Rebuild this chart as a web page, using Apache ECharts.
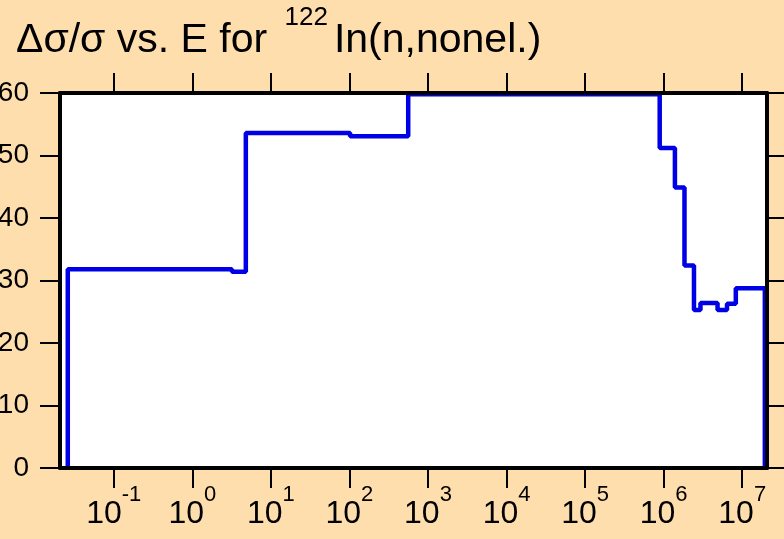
<!DOCTYPE html>
<html><head><meta charset="utf-8">
<script src="https://cdn.jsdelivr.net/npm/echarts@6/dist/echarts.min.js"></script>
<style>html,body{margin:0;padding:0;background:#FFDEAD}#c{width:784px;height:539px}</style>
</head><body><div id="c"></div>
<script>
// Step-function bin edges (eV) and relative uncertainty values (%)
const energies = [0.026, 0.026, 3.2, 4.8, 102, 560, 8.9e5, 1.39e6, 1.84e6, 2.43e6, 2.94e6, 4.85e6, 6.4e6, 8.28e6, 1.94e7, 1.94e7];
const uncertainty = [0, 31.8, 31.4, 53.6, 53.1, 59.8, 51.2, 44.9, 32.4, 25.3, 26.4, 25.3, 26.3, 28.75, 28.75, 0];
const xTickValues = [0.1, 1, 10, 100, 1e3, 1e4, 1e5, 1e6, 1e7];
const xMin = 0.0207, xMax = 2.066e7;
const yMin = 0, yMax = 60, yInterval = 10;
const titleMain1 = 'Δσ/σ vs. E for ';
const titleSup = '122';
const titleMain2 = 'In(n,nonel.)';

const FONT = 'Liberation Sans, Arial, Helvetica, sans-serif';
const chart = echarts.init(document.getElementById('c'));

function supLabel(v) {
  const e = Math.round(Math.log10(v));
  return '{b|10}{s|' + e + '}';
}

const tickStyle = { show: true, inside: false, length: 20, lineStyle: { color: '#000', width: 2 } };
const lineStyleAxis = { show: true, onZero: false, lineStyle: { color: '#000', width: 4 } };

const option = {
  backgroundColor: '#FFDEAD',
  animation: false,
  title: {
    left: 16, top: 1, padding: 0,
    text: '{m|' + titleMain1 + '}{s|' + titleSup + '}{m|' + titleMain2 + '}',
    textStyle: {
      fontWeight: 'normal',
      rich: {
        m: { fontFamily: FONT, fontSize: 41, fontWeight: 'normal', color: '#000', lineHeight: 60, verticalAlign: 'bottom' },
        s: { fontFamily: FONT, fontSize: 26, fontWeight: 'normal', color: '#000', lineHeight: 27, verticalAlign: 'top', padding: [4, 6, 0, 6] }
      }
    }
  },
  grid: { left: 60, right: 17, top: 93, bottom: 71, show: true, backgroundColor: '#fff', borderWidth: 0, outerBoundsMode: 'none', containLabel: false },
  xAxis: [{
    type: 'log', logBase: 10, min: xMin, max: xMax, position: 'bottom', z: 3,
    axisLine: lineStyleAxis,
    axisTick: Object.assign({}, tickStyle, { customValues: xTickValues }),
    minorTick: { show: false }, splitLine: { show: false },
    axisLabel: {
      customValues: xTickValues, margin: 16, formatter: supLabel,
      rich: {
        b: { fontFamily: FONT, fontSize: 32, color: '#000', lineHeight: 46, verticalAlign: 'bottom' },
        s: { fontFamily: FONT, fontSize: 22, color: '#000', lineHeight: 24, verticalAlign: 'top' }
      }
    }
  }, {
    type: 'log', logBase: 10, min: xMin, max: xMax, position: 'top', z: 3,
    axisLine: lineStyleAxis,
    axisTick: Object.assign({}, tickStyle, { customValues: xTickValues }),
    minorTick: { show: false }, splitLine: { show: false },
    axisLabel: { show: false }
  }],
  yAxis: [{
    type: 'value', min: yMin, max: yMax, interval: yInterval, position: 'left', z: 3,
    axisLine: lineStyleAxis, axisTick: tickStyle, splitLine: { show: false },
    axisLabel: { margin: 31, fontFamily: FONT, fontSize: 28, color: '#000' }
  }, {
    type: 'value', min: yMin, max: yMax, interval: yInterval, position: 'right', z: 3,
    axisLine: lineStyleAxis, axisTick: tickStyle, splitLine: { show: false },
    axisLabel: { show: false }
  }],
  series: [{
    type: 'line', step: 'end', xAxisIndex: 0, yAxisIndex: 0, z: 2,
    symbol: 'none', clip: false,
    lineStyle: { color: '#0000E6', width: 4.5 },
    data: energies.map((e, i) => [e, uncertainty[i]])
  }]
};
chart.setOption(option);
</script></body></html>
